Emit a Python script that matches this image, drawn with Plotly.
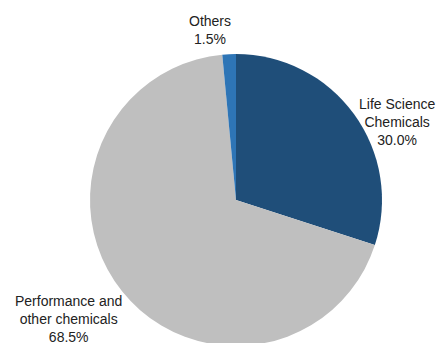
import plotly.graph_objects as go

categories = ["Life Science<br>Chemicals", "Performance and<br>other chemicals", "Others"]
values = [30.0, 68.5, 1.5]
colors = ["#1f4e79", "#bfbfbf", "#2e75b6"]
# label anchor positions in pixels (x, y-center of text block)
label_pos = [(397, 122), (68, 319), (210, 30)]

W, H = 438, 400
fig = go.Figure(go.Pie(
    labels=categories, values=values, sort=False, direction="clockwise",
    rotation=0, marker=dict(colors=colors, line=dict(width=0)),
    textinfo="none", hoverinfo="label+percent", showlegend=False,
    domain=dict(x=[90 / W, 382 / W], y=[1 - 346 / H, 1 - 54 / H]),
))

for cat, val, (px, py) in zip(categories, values, label_pos):
    fig.add_annotation(
        x=px / W, y=1 - py / H, xref="paper", yref="paper",
        text=f"{cat}<br>{val:.1f}%", showarrow=False,
        font=dict(size=14, color="#222222",
                  family="Liberation Sans Narrow, Arial Narrow, Liberation Sans, Arial"),
        align="center", xanchor="center", yanchor="middle",
    )

fig.update_layout(width=W, height=H, margin=dict(l=0, r=0, t=0, b=0),
                  paper_bgcolor="white", plot_bgcolor="white")
fig.write_html("out.html", config={"displayModeBar": False},
               post_script="document.body.style.overflow='hidden';document.body.style.margin='0';")
